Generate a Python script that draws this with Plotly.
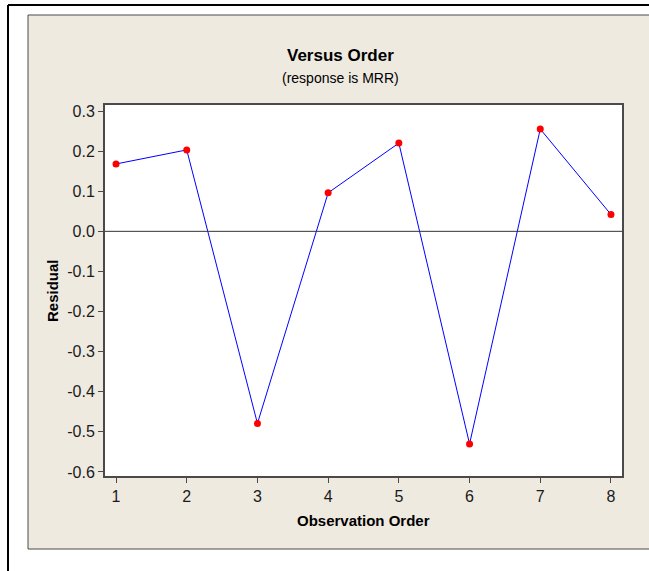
import plotly.graph_objects as go

# Residuals in observation order
order = [1, 2, 3, 4, 5, 6, 7, 8]
residual = [0.168, 0.203, -0.479, 0.096, 0.220, -0.530, 0.255, 0.042]

x_ticks = [1, 2, 3, 4, 5, 6, 7, 8]
y_ticks = [0.3, 0.2, 0.1, 0.0, -0.1, -0.2, -0.3, -0.4, -0.5, -0.6]
y_labels = ["0.3", "0.2", "0.1", "0.0", "-0.1", "-0.2", "-0.3", "-0.4", "-0.5", "-0.6"]

W, H = 649, 571
L, R, T, B = 105, 27, 105, 95
PW, PH = W - L - R, H - T - B


def px(x):
    return (x - L) / PW


def py(y):
    return 1 - (y - T) / PH


font = "Liberation Sans"
dark = "#4a4a4a"

fig = go.Figure()
fig.add_trace(go.Scatter(
    x=order, y=residual, mode="lines+markers",
    line=dict(color="#0000ff", width=1),
    marker=dict(color="#ff0000", size=7),
    cliponaxis=False, showlegend=False,
))

shapes = [
    # beige panel
    dict(type="rect", xref="paper", yref="paper", layer="below",
         x0=px(28), x1=px(700), y0=py(549), y1=py(15),
         fillcolor="#eeeae0", line=dict(color=dark, width=1)),
    # white plot region
    dict(type="rect", xref="paper", yref="paper", layer="below",
         x0=0, x1=1, y0=0, y1=1, fillcolor="white", line=dict(width=0)),
    # outer frame lines
    dict(type="line", xref="paper", yref="paper",
         x0=px(8), x1=px(700), y0=py(5), y1=py(5),
         line=dict(color="black", width=2)),
    dict(type="line", xref="paper", yref="paper",
         x0=px(8), x1=px(8), y0=py(5), y1=py(620),
         line=dict(color="black", width=2)),
    # zero reference line
    dict(type="line", xref="paper", yref="y",
         x0=0, x1=1, y0=0, y1=0, line=dict(color="#333333", width=1)),
]


def label(text, x, y, size, angle=0):
    return dict(text=text, x=px(x), y=py(y), xref="paper", yref="paper",
                xanchor="center", yanchor="middle", showarrow=False,
                textangle=angle, font=dict(family=font, size=size, color="black"))


annotations = [
    label("<b>Versus Order</b>", 340, 55, 17),
    label("(response is MRR)", 340, 78, 14),
    label("<b>Residual</b>", 52, 291, 15, angle=-90),
    label("<b>Observation Order</b>", 363, 520, 15),
]

fig.update_layout(
    width=W, height=H,
    margin=dict(l=L, r=R, t=T, b=B, pad=0),
    paper_bgcolor="white", plot_bgcolor="white",
    shapes=shapes, annotations=annotations,
    font=dict(family=font, size=16, color="#1a1a1a"),
    xaxis=dict(range=[0.844, 8.156], tickvals=x_ticks, ticks="outside", ticklen=5,
               tickcolor=dark, showgrid=False, zeroline=False, showline=True,
               linecolor=dark, linewidth=2, mirror=True),
    yaxis=dict(range=[-0.61, 0.315], tickvals=y_ticks, ticktext=y_labels,
               ticks="outside", ticklen=5, tickcolor=dark, showgrid=False,
               zeroline=False, showline=True, linecolor=dark, linewidth=2, mirror=True),
)

fig.write_html("out.html")
